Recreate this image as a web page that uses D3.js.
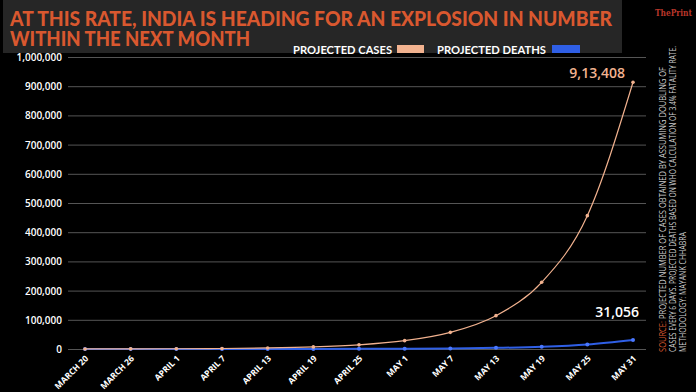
<!DOCTYPE html>
<html>
<head>
<meta charset="utf-8">
<script src="https://cdn.jsdelivr.net/npm/d3@7"></script>
<style>
  body { margin: 0; background: #000; }
  svg { display: block; }
</style>
</head>
<body>
<div id="chart"></div>
<script>
// data
var dates = ["MARCH 20", "MARCH 26", "APRIL 1", "APRIL 7", "APRIL 13", "APRIL 19", "APRIL 25",
             "MAY 1", "MAY 7", "MAY 13", "MAY 19", "MAY 25", "MAY 31"];
var cases = [223, 446, 892, 1784, 3568, 7136, 14272, 28544, 57088, 114176, 228352, 456704, 913408];
var deaths = [8, 15, 30, 61, 121, 243, 485, 970, 1941, 3882, 7764, 15528, 31056];
var yTicks = [0, 100000, 200000, 300000, 400000, 500000, 600000, 700000, 800000, 900000, 1000000];

var W = 696, H = 392;
var caseColor = "#f2b28f", deathColor = "#2f5fe6";

var svg = d3.select("#chart").append("svg")
  .attr("width", W)
  .attr("height", H)
  .style("background", "#000");

// scales
var x = d3.scalePoint().domain(dates).range([85, 633]);
var y = d3.scaleLinear().domain([0, 1000000]).range([349, 57]);

// title band
svg.append("rect")
  .attr("x", 3).attr("y", 0)
  .attr("width", 619).attr("height", 53)
  .attr("fill", "#262626");

var title = svg.append("g")
  .style("font-family", "Lato, 'Open Sans', sans-serif")
  .style("font-weight", "900")
  .style("font-size", "20px")
  .attr("fill", "#d9582f");
title.append("text").attr("x", 10).attr("y", 26)
  .attr("textLength", 602).attr("lengthAdjust", "spacingAndGlyphs")
  .text("AT THIS RATE, INDIA IS HEADING FOR AN EXPLOSION IN NUMBER");
title.append("text").attr("x", 10).attr("y", 46)
  .attr("textLength", 240).attr("lengthAdjust", "spacingAndGlyphs")
  .text("WITHIN THE NEXT MONTH");

// legend
var legend = svg.append("g")
  .style("font-family", "Lato, 'Open Sans', sans-serif")
  .style("font-weight", "700")
  .style("font-size", "11px")
  .attr("fill", "#fff");
legend.append("text").attr("x", 293).attr("y", 54)
  .attr("textLength", 99).attr("lengthAdjust", "spacingAndGlyphs")
  .text("PROJECTED CASES");
legend.append("rect").attr("x", 397).attr("y", 45).attr("width", 27).attr("height", 8).attr("fill", caseColor);
legend.append("text").attr("x", 437).attr("y", 54)
  .attr("textLength", 109).attr("lengthAdjust", "spacingAndGlyphs")
  .text("PROJECTED DEATHS");
legend.append("rect").attr("x", 552).attr("y", 45).attr("width", 28).attr("height", 8).attr("fill", deathColor);

// gridlines
svg.append("g")
  .attr("transform", "translate(68,0)")
  .call(d3.axisLeft(y).tickValues(yTicks).tickSize(-578).tickFormat(""))
  .call(function(g) {
    g.select(".domain").remove();
    g.selectAll("line").attr("stroke", "#555").attr("stroke-width", 1);
  });

// y labels
svg.append("g")
  .selectAll("text")
  .data(yTicks)
  .enter().append("text")
  .attr("x", 62)
  .attr("y", function(d) { return y(d) + 4; })
  .attr("text-anchor", "end")
  .attr("fill", "#fff")
  .style("font-family", "'Open Sans', sans-serif")
  .style("font-weight", "600")
  .style("font-size", "10px")
  .text(function(d) { return d3.format(",")(d); });

// x labels
svg.append("g")
  .selectAll("text")
  .data(dates)
  .enter().append("text")
  .attr("transform", function(d) { return "translate(" + (x(d) + 4) + ",359) rotate(-45)"; })
  .attr("text-anchor", "end")
  .attr("fill", "#fff")
  .style("font-family", "'Open Sans', sans-serif")
  .style("font-weight", "700")
  .style("font-size", "8.5px")
  .text(function(d) { return d; });

// lines
var line = d3.line()
  .x(function(d, i) { return x(dates[i]); })
  .y(function(d) { return y(d); })
  .curve(d3.curveMonotoneX);

svg.append("path")
  .datum(deaths)
  .attr("fill", "none")
  .attr("stroke", deathColor)
  .attr("stroke-width", 2)
  .attr("d", line);

svg.append("g").selectAll("circle")
  .data(deaths)
  .enter().append("circle")
  .attr("cx", function(d, i) { return x(dates[i]); })
  .attr("cy", function(d) { return y(d); })
  .attr("r", 2)
  .attr("fill", "#4a78ff");

svg.append("path")
  .datum(cases)
  .attr("fill", "none")
  .attr("stroke", caseColor)
  .attr("stroke-width", 1.2)
  .attr("d", line);

svg.append("g").selectAll("circle")
  .data(cases)
  .enter().append("circle")
  .attr("cx", function(d, i) { return x(dates[i]); })
  .attr("cy", function(d) { return y(d); })
  .attr("r", 1.8)
  .attr("fill", caseColor);

// end labels
svg.append("text")
  .attr("x", 625).attr("y", 78)
  .attr("text-anchor", "end")
  .attr("fill", caseColor)
  .style("font-family", "'Open Sans', sans-serif")
  .style("font-weight", "600")
  .style("font-size", "14px")
  .text("9,13,408");

svg.append("text")
  .attr("x", 639).attr("y", 317)
  .attr("text-anchor", "end")
  .attr("fill", "#fff")
  .style("font-family", "'Open Sans', sans-serif")
  .style("font-weight", "600")
  .style("font-size", "14px")
  .text("31,056");

// logo
svg.append("text")
  .attr("x", 692).attr("y", 16)
  .attr("text-anchor", "end")
  .attr("fill", "#b8362a")
  .style("font-family", "'DejaVu Serif', serif")
  .style("font-weight", "700")
  .style("font-size", "9px")
  .attr("textLength", 37).attr("lengthAdjust", "spacingAndGlyphs")
  .text("ThePrint");

// source note, rotated
var note = svg.append("g")
  .style("font-family", "'Open Sans', sans-serif")
  .style("font-size", "8.5px")
  .attr("fill", "#cfcfcf");

var t1 = note.append("text")
  .attr("transform", "translate(666,352) rotate(-90)")
  .attr("textLength", 285).attr("lengthAdjust", "spacingAndGlyphs");
t1.append("tspan").attr("fill", "#d9582f").text("SOURCE:");
t1.append("tspan").text(" PROJECTED NUMBER OF CASES OBTAINED BY ASSUMING DOUBLING OF");

note.append("text")
  .attr("transform", "translate(676,352) rotate(-90)")
  .attr("textLength", 306).attr("lengthAdjust", "spacingAndGlyphs")
  .text("CASES EVERY 6 DAYS. PROJECTED DEATHS BASED ON WHO CALCULATION OF 3.4% FATALITY RATE.");

note.append("text")
  .attr("transform", "translate(686,352) rotate(-90)")
  .attr("textLength", 120).attr("lengthAdjust", "spacingAndGlyphs")
  .text("METHODOLOGY: MAYANK CHHABRA");
</script>
</body>
</html>
